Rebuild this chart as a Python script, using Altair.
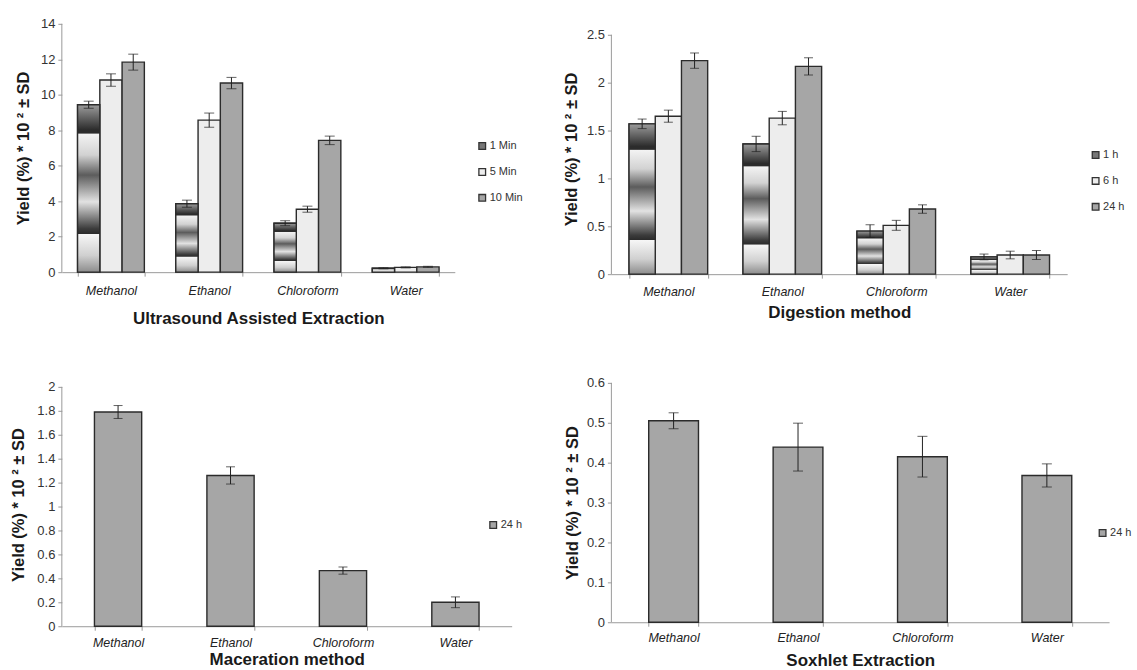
import altair as alt
import pandas as pd

FONT = "Liberation Sans"
YTITLE = "Yield (%)  * 10 \u00b2 \u00b1 SD"

categories = ["Methanol", "Ethanol", "Chloroform", "Water"]

# Ultrasound Assisted Extraction
uae_series = ["1 Min", "5 Min", "10 Min"]
uae_1 = [9.44, 3.86, 2.76, 0.22]
uae_1_sd = [0.20, 0.20, 0.14, 0.03]
uae_5 = [10.83, 8.57, 3.55, 0.27]
uae_5_sd = [0.35, 0.40, 0.17, 0.03]
uae_10 = [11.84, 10.66, 7.43, 0.30]
uae_10_sd = [0.45, 0.32, 0.24, 0.03]

# Digestion method
dig_series = ["1 h", "6 h", "24 h"]
dig_1 = [1.57, 1.36, 0.45, 0.18]
dig_1_sd = [0.05, 0.08, 0.066, 0.03]
dig_6 = [1.65, 1.63, 0.51, 0.20]
dig_6_sd = [0.063, 0.07, 0.052, 0.04]
dig_24 = [2.23, 2.17, 0.68, 0.20]
dig_24_sd = [0.08, 0.09, 0.044, 0.047]

# Maceration method
mac_series = ["24 h"]
mac_24 = [1.79, 1.26, 0.465, 0.20]
mac_24_sd = [0.054, 0.072, 0.03, 0.045]

# Soxhlet Extraction
sox_series = ["24 h"]
sox_24 = [0.505, 0.439, 0.415, 0.368]
sox_24_sd = [0.02, 0.06, 0.051, 0.029]

uae_ticks = [0, 2, 4, 6, 8, 10, 12, 14]
dig_ticks = [0, 0.5, 1, 1.5, 2, 2.5]
mac_ticks = [0, 0.2, 0.4, 0.6, 0.8, 1, 1.2, 1.4, 1.6, 1.8, 2]
sox_ticks = [0, 0.1, 0.2, 0.3, 0.4, 0.5, 0.6]

C_GRAD = "#777777"
C_LIGHT = "#ededed"
C_SPECK = "#a6a6a6"

grad_stops = [
    (0.0, "#9c9c9c"), (0.15, "#2c2c2c"), (0.17, "#2c2c2c"), (0.175, "#f3f3f3"),
    (0.30, "#d2d2d2"), (0.42, "#5c5c5c"), (0.58, "#e2e2e2"), (0.74, "#3c3c3c"),
    (0.77, "#2c2c2c"), (0.775, "#f6f6f6"), (0.90, "#d0d0d0"), (1.0, "#8c8c8c"),
]
GRAD = alt.LinearGradient(
    gradient="linear", x1=0, x2=0, y1=0, y2=1,
    stops=[alt.GradientStop(offset=o, color=c) for o, c in grad_stops],
)


def make_df(series, vals, sds):
    rows = []
    for s, vv, ss in zip(series, vals, sds):
        for c, v, e in zip(categories, vv, ss):
            rows.append({"cat": c, "series": s, "value": v, "lo": v - e, "hi": v + e})
    return pd.DataFrame(rows)


def y_axis(values, fmt, tpad):
    return alt.Axis(values=values, format=fmt, title=YTITLE, titleFontSize=16.5,
                    titlePadding=tpad, titleFont=FONT, titleFontWeight="bold",
                    titleColor="#1a1a1a", labelFont=FONT, labelFontSize=13,
                    labelColor="#333333", labelPadding=3, domain=False,
                    tickColor="#9a9a9a", tickSize=4, grid=False)


def x_axis(title, lpad, tpad):
    return alt.Axis(title=title, labelAngle=0, labelFontStyle="italic", labelFont=FONT,
                    labelFontSize=12.5, labelColor="#222222", labelPadding=lpad,
                    tickBand="extent", tickSize=4, domainColor="#9a9a9a",
                    tickColor="#9a9a9a", titleFont=FONT, titleFontSize=17,
                    titleFontWeight="bold", titleColor="#1a1a1a", titlePadding=tpad,
                    grid=False)


def panel(df, series, colors, ymax, yvals, fmt, xtitle, w, h, frac, cap,
          lx, ly, gradient, ytp, xlp, xtp):
    pi = 1 - frac
    x = alt.X("cat:N", sort=categories,
              scale=alt.Scale(domain=categories, paddingInner=pi, paddingOuter=pi / 2),
              axis=x_axis(xtitle, xlp, xtp))
    ysc = alt.Scale(domain=[0, ymax], nice=False, zero=True)
    yax = y_axis(yvals, fmt, ytp)
    off = {}
    if len(series) > 1:
        gw = frac * w / len(categories)
        off["xOffset"] = alt.XOffset("series:N", sort=series,
                                     scale=alt.Scale(domain=series, range=[0, gw],
                                                     paddingInner=0, paddingOuter=0))
    fill = alt.Fill("series:N", sort=series,
                    scale=alt.Scale(domain=series, range=colors),
                    legend=alt.Legend(title=None, orient="none", legendX=lx, legendY=ly,
                                      symbolType="square", symbolSize=45,
                                      symbolStrokeColor="#333333", symbolStrokeWidth=1.3,
                                      labelFont=FONT, labelFontSize=11, labelColor="#333333",
                                      labelOffset=2, rowPadding=13, padding=0))
    base = alt.Chart(df)
    # y axis line from 0 to the top tick
    axis_line = alt.Chart(pd.DataFrame({"y0": [yvals[0]], "y1": [yvals[-1]]})).mark_rule(
        color="#9a9a9a", strokeWidth=1).encode(
        x=alt.value(0), y=alt.Y("y0:Q", scale=ysc, axis=yax), y2="y1:Q")
    layers = [axis_line, base.mark_bar(stroke="#2b2b2b", strokeWidth=1.4).encode(
        x=x, y=alt.Y("value:Q", scale=ysc, axis=yax), fill=fill, **off)]
    if gradient:
        layers.append(alt.Chart(df[df["series"] == series[0]]).mark_bar(
            fill=GRAD, stroke="#2b2b2b", strokeWidth=1.4).encode(
            x=x, y=alt.Y("value:Q", scale=ysc, axis=yax), **off))
    layers.append(base.mark_rule(color="#222222", strokeWidth=1).encode(
        x=x, y=alt.Y("lo:Q", scale=ysc, axis=yax), y2="hi:Q", **off))
    layers.append(base.mark_tick(color="#222222", thickness=1, size=cap, orient="horizontal").encode(
        x=x, y=alt.Y("hi:Q", scale=ysc, axis=yax), **off))
    layers.append(base.mark_tick(color="#222222", thickness=1, size=cap, orient="horizontal").encode(
        x=x, y=alt.Y("lo:Q", scale=ysc, axis=yax), **off))
    return alt.layer(*layers).properties(width=w, height=h)


uae_df = make_df(uae_series, [uae_1, uae_5, uae_10], [uae_1_sd, uae_5_sd, uae_10_sd])
dig_df = make_df(dig_series, [dig_1, dig_6, dig_24], [dig_1_sd, dig_6_sd, dig_24_sd])
mac_df = make_df(mac_series, [mac_24], [mac_24_sd])
sox_df = make_df(sox_series, [sox_24], [sox_24_sd])

# Row 1 spans 251 px (P2 plot top sits 11 px below P1's); row 2 spans 244 px
p1 = panel(uae_df, uae_series, [C_GRAD, C_LIGHT, C_SPECK], 14, uae_ticks, "d",
           "Ultrasound Assisted Extraction", 394, 249, 0.68, 10, 416, 117, True, 9, 8, 14)
p2 = panel(dig_df, dig_series, [C_GRAD, C_LIGHT, C_SPECK], 2.5 * 251 / 240, dig_ticks, ".1~f",
           "Digestion method", 457, 251, 0.69, 9, 480, 126, True, 7, 7, 7)
p3 = panel(mac_df, mac_series, [C_SPECK], 2 * 244 / 240, mac_ticks, ".1~f",
           "Maceration method", 451, 244, 0.42, 9, 427, 137, False, 10, 6, 3)
p4 = panel(sox_df, sox_series, [C_SPECK], 0.6, sox_ticks, ".1~f",
           "Soxhlet Extraction", 499, 240, 0.40, 10, 487, 145, False, 6, 5, 9)

chart = alt.concat(
    p1, p2, p3, p4, columns=2, bounds="flush",
    spacing=alt.RowColnumber(row=109, column=100),
).resolve_scale(
    x="independent", y="independent", fill="independent", xOffset="independent"
).properties(
    background="white",
    padding={"left": 10, "top": 17, "right": 5, "bottom": 0},
).configure(font=FONT, view=alt.ViewConfig(stroke=None))

chart.save("out.html", embed_options={"renderer": "svg", "actions": False})
